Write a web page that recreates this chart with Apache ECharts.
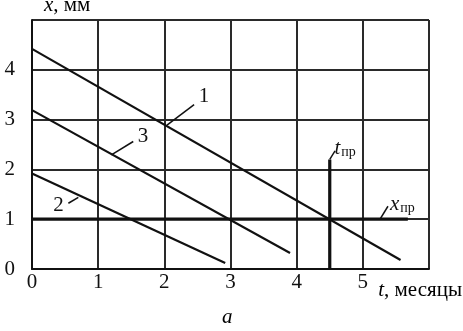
<!DOCTYPE html>
<html><head><meta charset="utf-8">
<script src="https://cdn.jsdelivr.net/npm/echarts@6/dist/echarts.min.js"></script>
<style>html,body{margin:0;padding:0;background:#fff}#c{width:463px;height:331px}</style>
</head><body><div id="c"></div>
<script>
// Data (t in months, x in mm)
const line1 = [[0, 4.42], [5.57, 0.18]];
const line2 = [[0, 1.92], [2.92, 0.12]];
const line3 = [[0, 3.19], [3.9, 0.32]];
const xLimit = [[0, 1], [5.68, 1]];          // x_пр
const tLimit = [[4.5, 0], [4.5, 2.2]];       // t_пр
const xTickMax = 5;
const yTickMax = 4;
// annotation leaders (data coords)
const lead1 = [[2.04, 2.89], [2.45, 3.30]];
const lead3 = [[1.20, 2.29], [1.53, 2.56]];
const lead2 = [[0.55, 1.32], [0.70, 1.44]];
const leadT = [[4.5, 2.2], [4.58, 2.37]];
const leadX = [[5.26, 1.0], [5.38, 1.26]];
const labels = [
  {value: [2.52, 3.47], text: '1', align: 'left'},
  {value: [1.60, 2.67], text: '3', align: 'left'},
  {value: [0.48, 1.27], text: '2', align: 'right'},
  {value: [4.57, 2.42], text: '{i|t}{s|пр}', align: 'left'},
  {value: [5.41, 1.30], text: '{i|x}{s|пр}', align: 'left'}
];

const FONT = 'Liberation Serif';
const ink = '#111';
const rich = {
  i: {fontFamily: FONT, fontStyle: 'italic', fontSize: 21, color: ink, lineHeight: 22, verticalAlign: 'bottom'},
  s: {fontFamily: FONT, fontSize: 14, color: ink, lineHeight: 22, verticalAlign: 'bottom', padding: [0,0,0,1]},
  n: {fontFamily: FONT, fontSize: 21, color: ink, lineHeight: 22, verticalAlign: 'bottom'}
};

function seg(data, w) {
  return {type: 'line', data: data, symbol: 'none', silent: true,
    lineStyle: {color: ink, width: w}, animation: false};
}

const chart = echarts.init(document.getElementById('c'));
chart.setOption({
  animation: false,
  grid: {left: 32, right: 34, top: 20, bottom: 62, containLabel: false},
  xAxis: {
    type: 'value', min: 0, max: 6, interval: 1,
    axisLine: {show: true, lineStyle: {color: ink, width: 2}},
    axisTick: {show: false},
    splitLine: {show: true, lineStyle: {color: '#2a2a2a', width: 2}},
    axisLabel: {margin: 3, fontFamily: FONT, fontSize: 21, color: ink,
      formatter: v => v <= xTickMax ? String(v) : ''}
  },
  yAxis: {
    type: 'value', min: 0, max: 5, interval: 1,
    axisLine: {show: true, lineStyle: {color: ink, width: 2}},
    axisTick: {show: false},
    splitLine: {show: true, lineStyle: {color: '#2a2a2a', width: 2}},
    axisLabel: {margin: 17, fontFamily: FONT, fontSize: 21, color: ink,
      formatter: v => v <= yTickMax ? String(v) : ''}
  },
  graphic: [
    {type: 'text', left: 44, top: -5, style: {text: '{i|x}{n|, мм}', rich: rich}},
    {type: 'text', right: 1, top: 280, style: {text: '{i|t}{n|, месяцы}', rich: rich}},
    {type: 'text', left: 222, top: 307, style: {text: '{i|а}', rich: rich}}
  ],
  series: [
    seg(line1, 2.2), seg(line2, 2.2), seg(line3, 2.2),
    seg(xLimit, 3.2), seg(tLimit, 3.2),
    seg(lead1, 1.5), seg(lead2, 1.5), seg(lead3, 1.5), seg(leadT, 1.5), seg(leadX, 1.5),
    {type: 'scatter', symbolSize: 0, silent: true, itemStyle: {opacity: 1},
      data: labels.map(l => ({value: l.value, label: {show: true, position: 'inside',
        formatter: l.text, align: l.align, verticalAlign: 'middle', opacity: 1,
        fontFamily: FONT, fontSize: 21, color: ink, rich: rich}}))}
  ]
});
</script></body></html>
